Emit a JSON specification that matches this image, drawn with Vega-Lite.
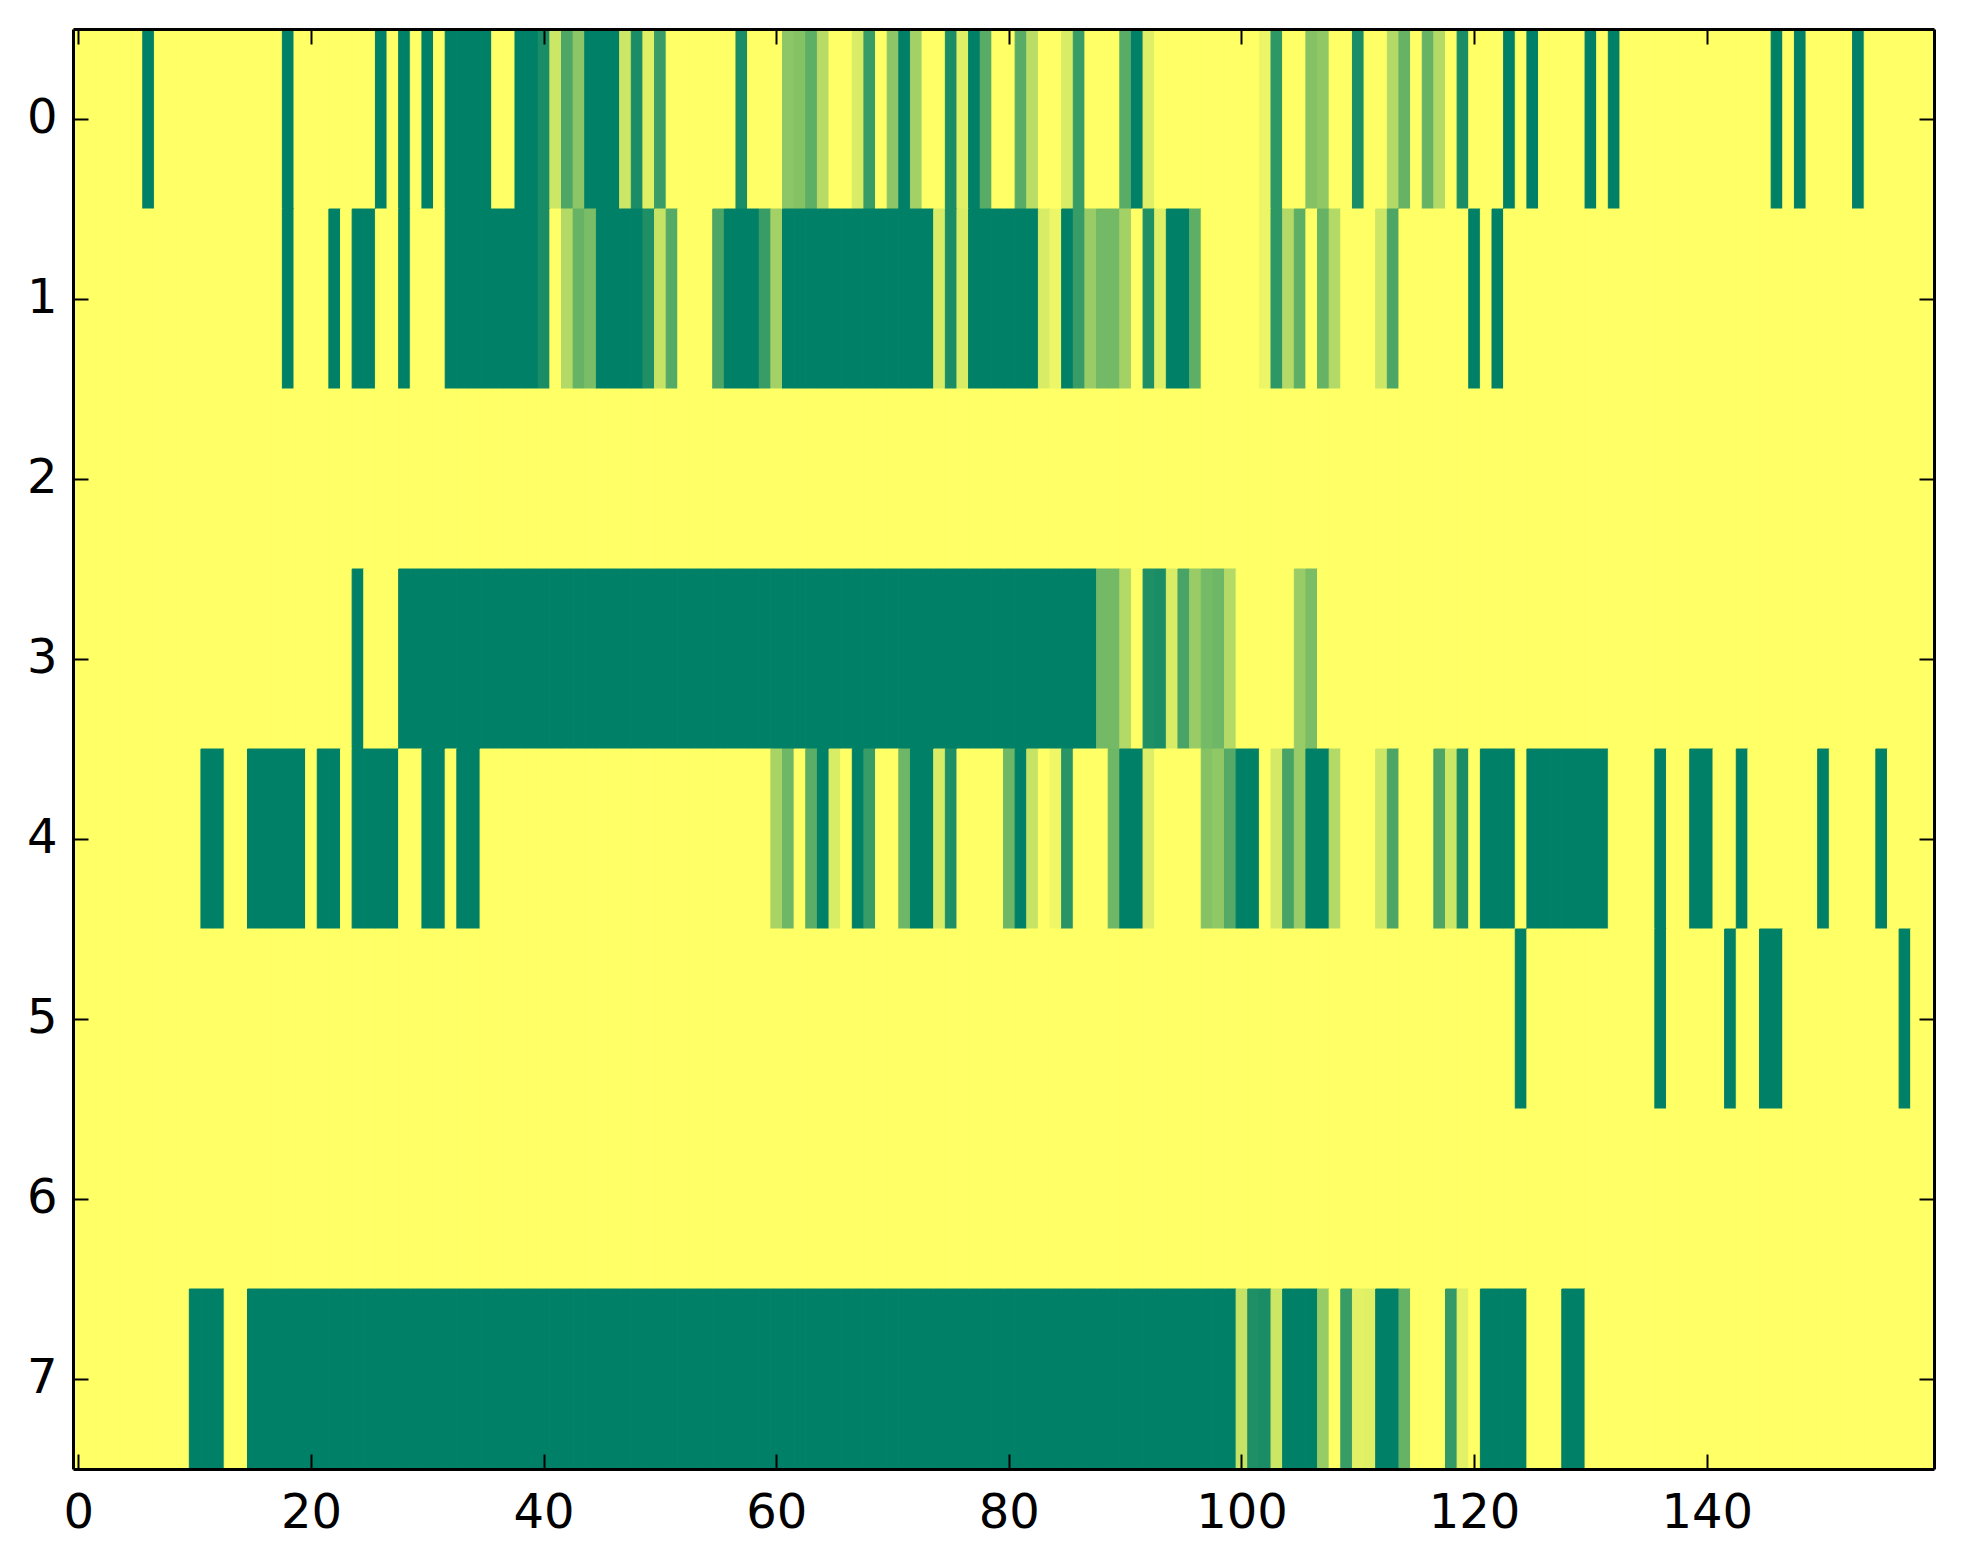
{
  "$schema": "https://vega.github.io/schema/vega-lite/v6.json",
  "autosize": {"type": "none"},
  "padding": {"left": 73, "top": 29, "right": 29, "bottom": 95},
  "width": 1861,
  "height": 1440,
  "background": "white",
  "config": {
    "view": {"stroke": null, "fill": "#ffff66"},
    "axis": {
      "domain": true, "domainColor": "black", "domainWidth": 3,
      "ticks": true, "tickColor": "black", "tickWidth": 2, "tickSize": -15,
      "labelFont": "DejaVu Sans", "labelFontSize": 48, "labelColor": "black",
      "labelAngle": 0, "labelOverlap": false, "labelFlush": false,
      "grid": false, "zindex": 2
    }
  },
  "data": {"values": [
    {"r":0,"c":0,"v":0},{"r":0,"c":1,"v":0},{"r":0,"c":2,"v":0},{"r":0,"c":3,"v":0},{"r":0,"c":4,"v":0},{"r":0,"c":5,"v":0},{"r":0,"c":6,"v":1},{"r":0,"c":7,"v":0},{"r":0,"c":8,"v":0},{"r":0,"c":9,"v":0},
    {"r":0,"c":10,"v":0},{"r":0,"c":11,"v":0},{"r":0,"c":12,"v":0},{"r":0,"c":13,"v":0},{"r":0,"c":14,"v":0},{"r":0,"c":15,"v":0},{"r":0,"c":16,"v":0},{"r":0,"c":17,"v":0},{"r":0,"c":18,"v":1},{"r":0,"c":19,"v":0},
    {"r":0,"c":20,"v":0},{"r":0,"c":21,"v":0},{"r":0,"c":22,"v":0},{"r":0,"c":23,"v":0},{"r":0,"c":24,"v":0},{"r":0,"c":25,"v":0},{"r":0,"c":26,"v":1},{"r":0,"c":27,"v":0},{"r":0,"c":28,"v":1},{"r":0,"c":29,"v":0},
    {"r":0,"c":30,"v":1},{"r":0,"c":31,"v":0},{"r":0,"c":32,"v":1},{"r":0,"c":33,"v":1},{"r":0,"c":34,"v":1},{"r":0,"c":35,"v":1},{"r":0,"c":36,"v":0},{"r":0,"c":37,"v":0},{"r":0,"c":38,"v":1},{"r":0,"c":39,"v":1},
    {"r":0,"c":40,"v":0.9},{"r":0,"c":41,"v":0.2},{"r":0,"c":42,"v":0.7},{"r":0,"c":43,"v":0.45},{"r":0,"c":44,"v":1},{"r":0,"c":45,"v":1},{"r":0,"c":46,"v":1},{"r":0,"c":47,"v":0.2},{"r":0,"c":48,"v":0.9},{"r":0,"c":49,"v":0.12},
    {"r":0,"c":50,"v":0.78},{"r":0,"c":51,"v":0},{"r":0,"c":52,"v":0},{"r":0,"c":53,"v":0},{"r":0,"c":54,"v":0},{"r":0,"c":55,"v":0},{"r":0,"c":56,"v":0},{"r":0,"c":57,"v":0.9},{"r":0,"c":58,"v":0},{"r":0,"c":59,"v":0},
    {"r":0,"c":60,"v":0},{"r":0,"c":61,"v":0.45},{"r":0,"c":62,"v":0.48},{"r":0,"c":63,"v":0.63},{"r":0,"c":64,"v":0.28},{"r":0,"c":65,"v":0},{"r":0,"c":66,"v":0},{"r":0,"c":67,"v":0.15},{"r":0,"c":68,"v":0.78},{"r":0,"c":69,"v":0},
    {"r":0,"c":70,"v":0.45},{"r":0,"c":71,"v":1},{"r":0,"c":72,"v":0.36},{"r":0,"c":73,"v":0},{"r":0,"c":74,"v":0},{"r":0,"c":75,"v":0.9},{"r":0,"c":76,"v":0.12},{"r":0,"c":77,"v":1},{"r":0,"c":78,"v":0.65},{"r":0,"c":79,"v":0},
    {"r":0,"c":80,"v":0},{"r":0,"c":81,"v":0.65},{"r":0,"c":82,"v":0.27},{"r":0,"c":83,"v":0},{"r":0,"c":84,"v":0},{"r":0,"c":85,"v":0.15},{"r":0,"c":86,"v":0.78},{"r":0,"c":87,"v":0},{"r":0,"c":88,"v":0},{"r":0,"c":89,"v":0},
    {"r":0,"c":90,"v":0.65},{"r":0,"c":91,"v":1},{"r":0,"c":92,"v":0.12},{"r":0,"c":93,"v":0},{"r":0,"c":94,"v":0},{"r":0,"c":95,"v":0},{"r":0,"c":96,"v":0},{"r":0,"c":97,"v":0},{"r":0,"c":98,"v":0},{"r":0,"c":99,"v":0},
    {"r":0,"c":100,"v":0},{"r":0,"c":101,"v":0},{"r":0,"c":102,"v":0.08},{"r":0,"c":103,"v":0.82},{"r":0,"c":104,"v":0},{"r":0,"c":105,"v":0},{"r":0,"c":106,"v":0.48},{"r":0,"c":107,"v":0.43},{"r":0,"c":108,"v":0},{"r":0,"c":109,"v":0},
    {"r":0,"c":110,"v":0.9},{"r":0,"c":111,"v":0},{"r":0,"c":112,"v":0},{"r":0,"c":113,"v":0.3},{"r":0,"c":114,"v":0.6},{"r":0,"c":115,"v":0},{"r":0,"c":116,"v":0.6},{"r":0,"c":117,"v":0.3},{"r":0,"c":118,"v":0},{"r":0,"c":119,"v":0.9},
    {"r":0,"c":120,"v":0},{"r":0,"c":121,"v":0},{"r":0,"c":122,"v":0},{"r":0,"c":123,"v":1},{"r":0,"c":124,"v":0},{"r":0,"c":125,"v":1},{"r":0,"c":126,"v":0},{"r":0,"c":127,"v":0},{"r":0,"c":128,"v":0},{"r":0,"c":129,"v":0},
    {"r":0,"c":130,"v":1},{"r":0,"c":131,"v":0},{"r":0,"c":132,"v":1},{"r":0,"c":133,"v":0},{"r":0,"c":134,"v":0},{"r":0,"c":135,"v":0},{"r":0,"c":136,"v":0},{"r":0,"c":137,"v":0},{"r":0,"c":138,"v":0},{"r":0,"c":139,"v":0},
    {"r":0,"c":140,"v":0},{"r":0,"c":141,"v":0},{"r":0,"c":142,"v":0},{"r":0,"c":143,"v":0},{"r":0,"c":144,"v":0},{"r":0,"c":145,"v":0},{"r":0,"c":146,"v":1},{"r":0,"c":147,"v":0},{"r":0,"c":148,"v":1},{"r":0,"c":149,"v":0},
    {"r":0,"c":150,"v":0},{"r":0,"c":151,"v":0},{"r":0,"c":152,"v":0},{"r":0,"c":153,"v":1},{"r":0,"c":154,"v":0},{"r":0,"c":155,"v":0},{"r":0,"c":156,"v":0},{"r":0,"c":157,"v":0},{"r":0,"c":158,"v":0},{"r":0,"c":159,"v":0},

    {"r":1,"c":0,"v":0},{"r":1,"c":1,"v":0},{"r":1,"c":2,"v":0},{"r":1,"c":3,"v":0},{"r":1,"c":4,"v":0},{"r":1,"c":5,"v":0},{"r":1,"c":6,"v":0},{"r":1,"c":7,"v":0},{"r":1,"c":8,"v":0},{"r":1,"c":9,"v":0},
    {"r":1,"c":10,"v":0},{"r":1,"c":11,"v":0},{"r":1,"c":12,"v":0},{"r":1,"c":13,"v":0},{"r":1,"c":14,"v":0},{"r":1,"c":15,"v":0},{"r":1,"c":16,"v":0},{"r":1,"c":17,"v":0},{"r":1,"c":18,"v":1},{"r":1,"c":19,"v":0},
    {"r":1,"c":20,"v":0},{"r":1,"c":21,"v":0},{"r":1,"c":22,"v":1},{"r":1,"c":23,"v":0},{"r":1,"c":24,"v":1},{"r":1,"c":25,"v":1},{"r":1,"c":26,"v":0},{"r":1,"c":27,"v":0},{"r":1,"c":28,"v":1},{"r":1,"c":29,"v":0},
    {"r":1,"c":30,"v":0},{"r":1,"c":31,"v":0},{"r":1,"c":32,"v":1},{"r":1,"c":33,"v":1},{"r":1,"c":34,"v":1},{"r":1,"c":35,"v":1},{"r":1,"c":36,"v":1},{"r":1,"c":37,"v":1},{"r":1,"c":38,"v":1},{"r":1,"c":39,"v":1},
    {"r":1,"c":40,"v":0.9},{"r":1,"c":41,"v":0},{"r":1,"c":42,"v":0.3},{"r":1,"c":43,"v":0.6},{"r":1,"c":44,"v":0.52},{"r":1,"c":45,"v":1},{"r":1,"c":46,"v":1},{"r":1,"c":47,"v":1},{"r":1,"c":48,"v":1},{"r":1,"c":49,"v":0.88},
    {"r":1,"c":50,"v":0.22},{"r":1,"c":51,"v":0.67},{"r":1,"c":52,"v":0},{"r":1,"c":53,"v":0},{"r":1,"c":54,"v":0},{"r":1,"c":55,"v":0.7},{"r":1,"c":56,"v":1},{"r":1,"c":57,"v":1},{"r":1,"c":58,"v":1},{"r":1,"c":59,"v":0.78},
    {"r":1,"c":60,"v":0.36},{"r":1,"c":61,"v":1},{"r":1,"c":62,"v":1},{"r":1,"c":63,"v":1},{"r":1,"c":64,"v":1},{"r":1,"c":65,"v":1},{"r":1,"c":66,"v":1},{"r":1,"c":67,"v":1},{"r":1,"c":68,"v":1},{"r":1,"c":69,"v":1},
    {"r":1,"c":70,"v":1},{"r":1,"c":71,"v":1},{"r":1,"c":72,"v":1},{"r":1,"c":73,"v":1},{"r":1,"c":74,"v":0.15},{"r":1,"c":75,"v":0.9},{"r":1,"c":76,"v":0.15},{"r":1,"c":77,"v":1},{"r":1,"c":78,"v":1},{"r":1,"c":79,"v":1},
    {"r":1,"c":80,"v":1},{"r":1,"c":81,"v":1},{"r":1,"c":82,"v":1},{"r":1,"c":83,"v":0.15},{"r":1,"c":84,"v":0.07},{"r":1,"c":85,"v":1},{"r":1,"c":86,"v":0.78},{"r":1,"c":87,"v":0.4},{"r":1,"c":88,"v":0.55},{"r":1,"c":89,"v":0.55},
    {"r":1,"c":90,"v":0.36},{"r":1,"c":91,"v":0},{"r":1,"c":92,"v":0.88},{"r":1,"c":93,"v":0.12},{"r":1,"c":94,"v":1},{"r":1,"c":95,"v":1},{"r":1,"c":96,"v":0.63},{"r":1,"c":97,"v":0},{"r":1,"c":98,"v":0},{"r":1,"c":99,"v":0},
    {"r":1,"c":100,"v":0},{"r":1,"c":101,"v":0},{"r":1,"c":102,"v":0.08},{"r":1,"c":103,"v":0.82},{"r":1,"c":104,"v":0.3},{"r":1,"c":105,"v":0.63},{"r":1,"c":106,"v":0},{"r":1,"c":107,"v":0.6},{"r":1,"c":108,"v":0.3},{"r":1,"c":109,"v":0},
    {"r":1,"c":110,"v":0},{"r":1,"c":111,"v":0},{"r":1,"c":112,"v":0.2},{"r":1,"c":113,"v":0.7},{"r":1,"c":114,"v":0},{"r":1,"c":115,"v":0},{"r":1,"c":116,"v":0},{"r":1,"c":117,"v":0},{"r":1,"c":118,"v":0},{"r":1,"c":119,"v":0},
    {"r":1,"c":120,"v":1},{"r":1,"c":121,"v":0},{"r":1,"c":122,"v":1},{"r":1,"c":123,"v":0},{"r":1,"c":124,"v":0},{"r":1,"c":125,"v":0},{"r":1,"c":126,"v":0},{"r":1,"c":127,"v":0},{"r":1,"c":128,"v":0},{"r":1,"c":129,"v":0},
    {"r":1,"c":130,"v":0},{"r":1,"c":131,"v":0},{"r":1,"c":132,"v":0},{"r":1,"c":133,"v":0},{"r":1,"c":134,"v":0},{"r":1,"c":135,"v":0},{"r":1,"c":136,"v":0},{"r":1,"c":137,"v":0},{"r":1,"c":138,"v":0},{"r":1,"c":139,"v":0},
    {"r":1,"c":140,"v":0},{"r":1,"c":141,"v":0},{"r":1,"c":142,"v":0},{"r":1,"c":143,"v":0},{"r":1,"c":144,"v":0},{"r":1,"c":145,"v":0},{"r":1,"c":146,"v":0},{"r":1,"c":147,"v":0},{"r":1,"c":148,"v":0},{"r":1,"c":149,"v":0},
    {"r":1,"c":150,"v":0},{"r":1,"c":151,"v":0},{"r":1,"c":152,"v":0},{"r":1,"c":153,"v":0},{"r":1,"c":154,"v":0},{"r":1,"c":155,"v":0},{"r":1,"c":156,"v":0},{"r":1,"c":157,"v":0},{"r":1,"c":158,"v":0},{"r":1,"c":159,"v":0},

    {"r":2,"c":0,"v":0},{"r":2,"c":1,"v":0},{"r":2,"c":2,"v":0},{"r":2,"c":3,"v":0},{"r":2,"c":4,"v":0},{"r":2,"c":5,"v":0},{"r":2,"c":6,"v":0},{"r":2,"c":7,"v":0},{"r":2,"c":8,"v":0},{"r":2,"c":9,"v":0},
    {"r":2,"c":10,"v":0},{"r":2,"c":11,"v":0},{"r":2,"c":12,"v":0},{"r":2,"c":13,"v":0},{"r":2,"c":14,"v":0},{"r":2,"c":15,"v":0},{"r":2,"c":16,"v":0},{"r":2,"c":17,"v":0},{"r":2,"c":18,"v":0},{"r":2,"c":19,"v":0},
    {"r":2,"c":20,"v":0},{"r":2,"c":21,"v":0},{"r":2,"c":22,"v":0},{"r":2,"c":23,"v":0},{"r":2,"c":24,"v":0},{"r":2,"c":25,"v":0},{"r":2,"c":26,"v":0},{"r":2,"c":27,"v":0},{"r":2,"c":28,"v":0},{"r":2,"c":29,"v":0},
    {"r":2,"c":30,"v":0},{"r":2,"c":31,"v":0},{"r":2,"c":32,"v":0},{"r":2,"c":33,"v":0},{"r":2,"c":34,"v":0},{"r":2,"c":35,"v":0},{"r":2,"c":36,"v":0},{"r":2,"c":37,"v":0},{"r":2,"c":38,"v":0},{"r":2,"c":39,"v":0},
    {"r":2,"c":40,"v":0},{"r":2,"c":41,"v":0},{"r":2,"c":42,"v":0},{"r":2,"c":43,"v":0},{"r":2,"c":44,"v":0},{"r":2,"c":45,"v":0},{"r":2,"c":46,"v":0},{"r":2,"c":47,"v":0},{"r":2,"c":48,"v":0},{"r":2,"c":49,"v":0},
    {"r":2,"c":50,"v":0},{"r":2,"c":51,"v":0},{"r":2,"c":52,"v":0},{"r":2,"c":53,"v":0},{"r":2,"c":54,"v":0},{"r":2,"c":55,"v":0},{"r":2,"c":56,"v":0},{"r":2,"c":57,"v":0},{"r":2,"c":58,"v":0},{"r":2,"c":59,"v":0},
    {"r":2,"c":60,"v":0},{"r":2,"c":61,"v":0},{"r":2,"c":62,"v":0},{"r":2,"c":63,"v":0},{"r":2,"c":64,"v":0},{"r":2,"c":65,"v":0},{"r":2,"c":66,"v":0},{"r":2,"c":67,"v":0},{"r":2,"c":68,"v":0},{"r":2,"c":69,"v":0},
    {"r":2,"c":70,"v":0},{"r":2,"c":71,"v":0},{"r":2,"c":72,"v":0},{"r":2,"c":73,"v":0},{"r":2,"c":74,"v":0},{"r":2,"c":75,"v":0},{"r":2,"c":76,"v":0},{"r":2,"c":77,"v":0},{"r":2,"c":78,"v":0},{"r":2,"c":79,"v":0},
    {"r":2,"c":80,"v":0},{"r":2,"c":81,"v":0},{"r":2,"c":82,"v":0},{"r":2,"c":83,"v":0},{"r":2,"c":84,"v":0},{"r":2,"c":85,"v":0},{"r":2,"c":86,"v":0},{"r":2,"c":87,"v":0},{"r":2,"c":88,"v":0},{"r":2,"c":89,"v":0},
    {"r":2,"c":90,"v":0},{"r":2,"c":91,"v":0},{"r":2,"c":92,"v":0},{"r":2,"c":93,"v":0},{"r":2,"c":94,"v":0},{"r":2,"c":95,"v":0},{"r":2,"c":96,"v":0},{"r":2,"c":97,"v":0},{"r":2,"c":98,"v":0},{"r":2,"c":99,"v":0},
    {"r":2,"c":100,"v":0},{"r":2,"c":101,"v":0},{"r":2,"c":102,"v":0},{"r":2,"c":103,"v":0},{"r":2,"c":104,"v":0},{"r":2,"c":105,"v":0},{"r":2,"c":106,"v":0},{"r":2,"c":107,"v":0},{"r":2,"c":108,"v":0},{"r":2,"c":109,"v":0},
    {"r":2,"c":110,"v":0},{"r":2,"c":111,"v":0},{"r":2,"c":112,"v":0},{"r":2,"c":113,"v":0},{"r":2,"c":114,"v":0},{"r":2,"c":115,"v":0},{"r":2,"c":116,"v":0},{"r":2,"c":117,"v":0},{"r":2,"c":118,"v":0},{"r":2,"c":119,"v":0},
    {"r":2,"c":120,"v":0},{"r":2,"c":121,"v":0},{"r":2,"c":122,"v":0},{"r":2,"c":123,"v":0},{"r":2,"c":124,"v":0},{"r":2,"c":125,"v":0},{"r":2,"c":126,"v":0},{"r":2,"c":127,"v":0},{"r":2,"c":128,"v":0},{"r":2,"c":129,"v":0},
    {"r":2,"c":130,"v":0},{"r":2,"c":131,"v":0},{"r":2,"c":132,"v":0},{"r":2,"c":133,"v":0},{"r":2,"c":134,"v":0},{"r":2,"c":135,"v":0},{"r":2,"c":136,"v":0},{"r":2,"c":137,"v":0},{"r":2,"c":138,"v":0},{"r":2,"c":139,"v":0},
    {"r":2,"c":140,"v":0},{"r":2,"c":141,"v":0},{"r":2,"c":142,"v":0},{"r":2,"c":143,"v":0},{"r":2,"c":144,"v":0},{"r":2,"c":145,"v":0},{"r":2,"c":146,"v":0},{"r":2,"c":147,"v":0},{"r":2,"c":148,"v":0},{"r":2,"c":149,"v":0},
    {"r":2,"c":150,"v":0},{"r":2,"c":151,"v":0},{"r":2,"c":152,"v":0},{"r":2,"c":153,"v":0},{"r":2,"c":154,"v":0},{"r":2,"c":155,"v":0},{"r":2,"c":156,"v":0},{"r":2,"c":157,"v":0},{"r":2,"c":158,"v":0},{"r":2,"c":159,"v":0},

    {"r":3,"c":0,"v":0},{"r":3,"c":1,"v":0},{"r":3,"c":2,"v":0},{"r":3,"c":3,"v":0},{"r":3,"c":4,"v":0},{"r":3,"c":5,"v":0},{"r":3,"c":6,"v":0},{"r":3,"c":7,"v":0},{"r":3,"c":8,"v":0},{"r":3,"c":9,"v":0},
    {"r":3,"c":10,"v":0},{"r":3,"c":11,"v":0},{"r":3,"c":12,"v":0},{"r":3,"c":13,"v":0},{"r":3,"c":14,"v":0},{"r":3,"c":15,"v":0},{"r":3,"c":16,"v":0},{"r":3,"c":17,"v":0},{"r":3,"c":18,"v":0},{"r":3,"c":19,"v":0},
    {"r":3,"c":20,"v":0},{"r":3,"c":21,"v":0},{"r":3,"c":22,"v":0},{"r":3,"c":23,"v":0},{"r":3,"c":24,"v":1},{"r":3,"c":25,"v":0},{"r":3,"c":26,"v":0},{"r":3,"c":27,"v":0},{"r":3,"c":28,"v":1},{"r":3,"c":29,"v":1},
    {"r":3,"c":30,"v":1},{"r":3,"c":31,"v":1},{"r":3,"c":32,"v":1},{"r":3,"c":33,"v":1},{"r":3,"c":34,"v":1},{"r":3,"c":35,"v":1},{"r":3,"c":36,"v":1},{"r":3,"c":37,"v":1},{"r":3,"c":38,"v":1},{"r":3,"c":39,"v":1},
    {"r":3,"c":40,"v":1},{"r":3,"c":41,"v":1},{"r":3,"c":42,"v":1},{"r":3,"c":43,"v":1},{"r":3,"c":44,"v":1},{"r":3,"c":45,"v":1},{"r":3,"c":46,"v":1},{"r":3,"c":47,"v":1},{"r":3,"c":48,"v":1},{"r":3,"c":49,"v":1},
    {"r":3,"c":50,"v":1},{"r":3,"c":51,"v":1},{"r":3,"c":52,"v":1},{"r":3,"c":53,"v":1},{"r":3,"c":54,"v":1},{"r":3,"c":55,"v":1},{"r":3,"c":56,"v":1},{"r":3,"c":57,"v":1},{"r":3,"c":58,"v":1},{"r":3,"c":59,"v":1},
    {"r":3,"c":60,"v":1},{"r":3,"c":61,"v":1},{"r":3,"c":62,"v":1},{"r":3,"c":63,"v":1},{"r":3,"c":64,"v":1},{"r":3,"c":65,"v":1},{"r":3,"c":66,"v":1},{"r":3,"c":67,"v":1},{"r":3,"c":68,"v":1},{"r":3,"c":69,"v":1},
    {"r":3,"c":70,"v":1},{"r":3,"c":71,"v":1},{"r":3,"c":72,"v":1},{"r":3,"c":73,"v":1},{"r":3,"c":74,"v":1},{"r":3,"c":75,"v":1},{"r":3,"c":76,"v":1},{"r":3,"c":77,"v":1},{"r":3,"c":78,"v":1},{"r":3,"c":79,"v":1},
    {"r":3,"c":80,"v":1},{"r":3,"c":81,"v":1},{"r":3,"c":82,"v":1},{"r":3,"c":83,"v":1},{"r":3,"c":84,"v":1},{"r":3,"c":85,"v":1},{"r":3,"c":86,"v":1},{"r":3,"c":87,"v":1},{"r":3,"c":88,"v":0.55},{"r":3,"c":89,"v":0.55},
    {"r":3,"c":90,"v":0.3},{"r":3,"c":91,"v":0},{"r":3,"c":92,"v":0.88},{"r":3,"c":93,"v":0.9},{"r":3,"c":94,"v":0.15},{"r":3,"c":95,"v":0.72},{"r":3,"c":96,"v":0.4},{"r":3,"c":97,"v":0.54},{"r":3,"c":98,"v":0.57},{"r":3,"c":99,"v":0.3},
    {"r":3,"c":100,"v":0},{"r":3,"c":101,"v":0},{"r":3,"c":102,"v":0},{"r":3,"c":103,"v":0},{"r":3,"c":104,"v":0},{"r":3,"c":105,"v":0.4},{"r":3,"c":106,"v":0.52},{"r":3,"c":107,"v":0},{"r":3,"c":108,"v":0},{"r":3,"c":109,"v":0},
    {"r":3,"c":110,"v":0},{"r":3,"c":111,"v":0},{"r":3,"c":112,"v":0},{"r":3,"c":113,"v":0},{"r":3,"c":114,"v":0},{"r":3,"c":115,"v":0},{"r":3,"c":116,"v":0},{"r":3,"c":117,"v":0},{"r":3,"c":118,"v":0},{"r":3,"c":119,"v":0},
    {"r":3,"c":120,"v":0},{"r":3,"c":121,"v":0},{"r":3,"c":122,"v":0},{"r":3,"c":123,"v":0},{"r":3,"c":124,"v":0},{"r":3,"c":125,"v":0},{"r":3,"c":126,"v":0},{"r":3,"c":127,"v":0},{"r":3,"c":128,"v":0},{"r":3,"c":129,"v":0},
    {"r":3,"c":130,"v":0},{"r":3,"c":131,"v":0},{"r":3,"c":132,"v":0},{"r":3,"c":133,"v":0},{"r":3,"c":134,"v":0},{"r":3,"c":135,"v":0},{"r":3,"c":136,"v":0},{"r":3,"c":137,"v":0},{"r":3,"c":138,"v":0},{"r":3,"c":139,"v":0},
    {"r":3,"c":140,"v":0},{"r":3,"c":141,"v":0},{"r":3,"c":142,"v":0},{"r":3,"c":143,"v":0},{"r":3,"c":144,"v":0},{"r":3,"c":145,"v":0},{"r":3,"c":146,"v":0},{"r":3,"c":147,"v":0},{"r":3,"c":148,"v":0},{"r":3,"c":149,"v":0},
    {"r":3,"c":150,"v":0},{"r":3,"c":151,"v":0},{"r":3,"c":152,"v":0},{"r":3,"c":153,"v":0},{"r":3,"c":154,"v":0},{"r":3,"c":155,"v":0},{"r":3,"c":156,"v":0},{"r":3,"c":157,"v":0},{"r":3,"c":158,"v":0},{"r":3,"c":159,"v":0},

    {"r":4,"c":0,"v":0},{"r":4,"c":1,"v":0},{"r":4,"c":2,"v":0},{"r":4,"c":3,"v":0},{"r":4,"c":4,"v":0},{"r":4,"c":5,"v":0},{"r":4,"c":6,"v":0},{"r":4,"c":7,"v":0},{"r":4,"c":8,"v":0},{"r":4,"c":9,"v":0},
    {"r":4,"c":10,"v":0},{"r":4,"c":11,"v":1},{"r":4,"c":12,"v":1},{"r":4,"c":13,"v":0},{"r":4,"c":14,"v":0},{"r":4,"c":15,"v":1},{"r":4,"c":16,"v":1},{"r":4,"c":17,"v":1},{"r":4,"c":18,"v":1},{"r":4,"c":19,"v":1},
    {"r":4,"c":20,"v":0},{"r":4,"c":21,"v":1},{"r":4,"c":22,"v":1},{"r":4,"c":23,"v":0},{"r":4,"c":24,"v":1},{"r":4,"c":25,"v":1},{"r":4,"c":26,"v":1},{"r":4,"c":27,"v":1},{"r":4,"c":28,"v":0},{"r":4,"c":29,"v":0},
    {"r":4,"c":30,"v":1},{"r":4,"c":31,"v":1},{"r":4,"c":32,"v":0},{"r":4,"c":33,"v":1},{"r":4,"c":34,"v":1},{"r":4,"c":35,"v":0},{"r":4,"c":36,"v":0},{"r":4,"c":37,"v":0},{"r":4,"c":38,"v":0},{"r":4,"c":39,"v":0},
    {"r":4,"c":40,"v":0},{"r":4,"c":41,"v":0},{"r":4,"c":42,"v":0},{"r":4,"c":43,"v":0},{"r":4,"c":44,"v":0},{"r":4,"c":45,"v":0},{"r":4,"c":46,"v":0},{"r":4,"c":47,"v":0},{"r":4,"c":48,"v":0},{"r":4,"c":49,"v":0},
    {"r":4,"c":50,"v":0},{"r":4,"c":51,"v":0},{"r":4,"c":52,"v":0},{"r":4,"c":53,"v":0},{"r":4,"c":54,"v":0},{"r":4,"c":55,"v":0},{"r":4,"c":56,"v":0},{"r":4,"c":57,"v":0},{"r":4,"c":58,"v":0},{"r":4,"c":59,"v":0},
    {"r":4,"c":60,"v":0.34},{"r":4,"c":61,"v":0.57},{"r":4,"c":62,"v":0},{"r":4,"c":63,"v":0.64},{"r":4,"c":64,"v":1},{"r":4,"c":65,"v":0.15},{"r":4,"c":66,"v":0},{"r":4,"c":67,"v":1},{"r":4,"c":68,"v":0.78},{"r":4,"c":69,"v":0},
    {"r":4,"c":70,"v":0},{"r":4,"c":71,"v":0.57},{"r":4,"c":72,"v":1},{"r":4,"c":73,"v":1},{"r":4,"c":74,"v":0.15},{"r":4,"c":75,"v":0.88},{"r":4,"c":76,"v":0},{"r":4,"c":77,"v":0},{"r":4,"c":78,"v":0},{"r":4,"c":79,"v":0},
    {"r":4,"c":80,"v":0.57},{"r":4,"c":81,"v":1},{"r":4,"c":82,"v":0.22},{"r":4,"c":83,"v":0},{"r":4,"c":84,"v":0.06},{"r":4,"c":85,"v":0.84},{"r":4,"c":86,"v":0},{"r":4,"c":87,"v":0},{"r":4,"c":88,"v":0},{"r":4,"c":89,"v":0.57},
    {"r":4,"c":90,"v":1},{"r":4,"c":91,"v":1},{"r":4,"c":92,"v":0.13},{"r":4,"c":93,"v":0},{"r":4,"c":94,"v":0},{"r":4,"c":95,"v":0},{"r":4,"c":96,"v":0},{"r":4,"c":97,"v":0.48},{"r":4,"c":98,"v":0.43},{"r":4,"c":99,"v":0.67},
    {"r":4,"c":100,"v":1},{"r":4,"c":101,"v":1},{"r":4,"c":102,"v":0},{"r":4,"c":103,"v":0.17},{"r":4,"c":104,"v":0.72},{"r":4,"c":105,"v":0.4},{"r":4,"c":106,"v":1},{"r":4,"c":107,"v":1},{"r":4,"c":108,"v":0.3},{"r":4,"c":109,"v":0},
    {"r":4,"c":110,"v":0},{"r":4,"c":111,"v":0},{"r":4,"c":112,"v":0.2},{"r":4,"c":113,"v":0.7},{"r":4,"c":114,"v":0},{"r":4,"c":115,"v":0},{"r":4,"c":116,"v":0},{"r":4,"c":117,"v":0.7},{"r":4,"c":118,"v":0.2},{"r":4,"c":119,"v":0.9},
    {"r":4,"c":120,"v":0},{"r":4,"c":121,"v":1},{"r":4,"c":122,"v":1},{"r":4,"c":123,"v":1},{"r":4,"c":124,"v":0},{"r":4,"c":125,"v":1},{"r":4,"c":126,"v":1},{"r":4,"c":127,"v":1},{"r":4,"c":128,"v":1},{"r":4,"c":129,"v":1},
    {"r":4,"c":130,"v":1},{"r":4,"c":131,"v":1},{"r":4,"c":132,"v":0},{"r":4,"c":133,"v":0},{"r":4,"c":134,"v":0},{"r":4,"c":135,"v":0},{"r":4,"c":136,"v":1},{"r":4,"c":137,"v":0},{"r":4,"c":138,"v":0},{"r":4,"c":139,"v":1},
    {"r":4,"c":140,"v":1},{"r":4,"c":141,"v":0},{"r":4,"c":142,"v":0},{"r":4,"c":143,"v":1},{"r":4,"c":144,"v":0},{"r":4,"c":145,"v":0},{"r":4,"c":146,"v":0},{"r":4,"c":147,"v":0},{"r":4,"c":148,"v":0},{"r":4,"c":149,"v":0},
    {"r":4,"c":150,"v":1},{"r":4,"c":151,"v":0},{"r":4,"c":152,"v":0},{"r":4,"c":153,"v":0},{"r":4,"c":154,"v":0},{"r":4,"c":155,"v":1},{"r":4,"c":156,"v":0},{"r":4,"c":157,"v":0},{"r":4,"c":158,"v":0},{"r":4,"c":159,"v":0},

    {"r":5,"c":0,"v":0},{"r":5,"c":1,"v":0},{"r":5,"c":2,"v":0},{"r":5,"c":3,"v":0},{"r":5,"c":4,"v":0},{"r":5,"c":5,"v":0},{"r":5,"c":6,"v":0},{"r":5,"c":7,"v":0},{"r":5,"c":8,"v":0},{"r":5,"c":9,"v":0},
    {"r":5,"c":10,"v":0},{"r":5,"c":11,"v":0},{"r":5,"c":12,"v":0},{"r":5,"c":13,"v":0},{"r":5,"c":14,"v":0},{"r":5,"c":15,"v":0},{"r":5,"c":16,"v":0},{"r":5,"c":17,"v":0},{"r":5,"c":18,"v":0},{"r":5,"c":19,"v":0},
    {"r":5,"c":20,"v":0},{"r":5,"c":21,"v":0},{"r":5,"c":22,"v":0},{"r":5,"c":23,"v":0},{"r":5,"c":24,"v":0},{"r":5,"c":25,"v":0},{"r":5,"c":26,"v":0},{"r":5,"c":27,"v":0},{"r":5,"c":28,"v":0},{"r":5,"c":29,"v":0},
    {"r":5,"c":30,"v":0},{"r":5,"c":31,"v":0},{"r":5,"c":32,"v":0},{"r":5,"c":33,"v":0},{"r":5,"c":34,"v":0},{"r":5,"c":35,"v":0},{"r":5,"c":36,"v":0},{"r":5,"c":37,"v":0},{"r":5,"c":38,"v":0},{"r":5,"c":39,"v":0},
    {"r":5,"c":40,"v":0},{"r":5,"c":41,"v":0},{"r":5,"c":42,"v":0},{"r":5,"c":43,"v":0},{"r":5,"c":44,"v":0},{"r":5,"c":45,"v":0},{"r":5,"c":46,"v":0},{"r":5,"c":47,"v":0},{"r":5,"c":48,"v":0},{"r":5,"c":49,"v":0},
    {"r":5,"c":50,"v":0},{"r":5,"c":51,"v":0},{"r":5,"c":52,"v":0},{"r":5,"c":53,"v":0},{"r":5,"c":54,"v":0},{"r":5,"c":55,"v":0},{"r":5,"c":56,"v":0},{"r":5,"c":57,"v":0},{"r":5,"c":58,"v":0},{"r":5,"c":59,"v":0},
    {"r":5,"c":60,"v":0},{"r":5,"c":61,"v":0},{"r":5,"c":62,"v":0},{"r":5,"c":63,"v":0},{"r":5,"c":64,"v":0},{"r":5,"c":65,"v":0},{"r":5,"c":66,"v":0},{"r":5,"c":67,"v":0},{"r":5,"c":68,"v":0},{"r":5,"c":69,"v":0},
    {"r":5,"c":70,"v":0},{"r":5,"c":71,"v":0},{"r":5,"c":72,"v":0},{"r":5,"c":73,"v":0},{"r":5,"c":74,"v":0},{"r":5,"c":75,"v":0},{"r":5,"c":76,"v":0},{"r":5,"c":77,"v":0},{"r":5,"c":78,"v":0},{"r":5,"c":79,"v":0},
    {"r":5,"c":80,"v":0},{"r":5,"c":81,"v":0},{"r":5,"c":82,"v":0},{"r":5,"c":83,"v":0},{"r":5,"c":84,"v":0},{"r":5,"c":85,"v":0},{"r":5,"c":86,"v":0},{"r":5,"c":87,"v":0},{"r":5,"c":88,"v":0},{"r":5,"c":89,"v":0},
    {"r":5,"c":90,"v":0},{"r":5,"c":91,"v":0},{"r":5,"c":92,"v":0},{"r":5,"c":93,"v":0},{"r":5,"c":94,"v":0},{"r":5,"c":95,"v":0},{"r":5,"c":96,"v":0},{"r":5,"c":97,"v":0},{"r":5,"c":98,"v":0},{"r":5,"c":99,"v":0},
    {"r":5,"c":100,"v":0},{"r":5,"c":101,"v":0},{"r":5,"c":102,"v":0},{"r":5,"c":103,"v":0},{"r":5,"c":104,"v":0},{"r":5,"c":105,"v":0},{"r":5,"c":106,"v":0},{"r":5,"c":107,"v":0},{"r":5,"c":108,"v":0},{"r":5,"c":109,"v":0},
    {"r":5,"c":110,"v":0},{"r":5,"c":111,"v":0},{"r":5,"c":112,"v":0},{"r":5,"c":113,"v":0},{"r":5,"c":114,"v":0},{"r":5,"c":115,"v":0},{"r":5,"c":116,"v":0},{"r":5,"c":117,"v":0},{"r":5,"c":118,"v":0},{"r":5,"c":119,"v":0},
    {"r":5,"c":120,"v":0},{"r":5,"c":121,"v":0},{"r":5,"c":122,"v":0},{"r":5,"c":123,"v":0},{"r":5,"c":124,"v":1},{"r":5,"c":125,"v":0},{"r":5,"c":126,"v":0},{"r":5,"c":127,"v":0},{"r":5,"c":128,"v":0},{"r":5,"c":129,"v":0},
    {"r":5,"c":130,"v":0},{"r":5,"c":131,"v":0},{"r":5,"c":132,"v":0},{"r":5,"c":133,"v":0},{"r":5,"c":134,"v":0},{"r":5,"c":135,"v":0},{"r":5,"c":136,"v":1},{"r":5,"c":137,"v":0},{"r":5,"c":138,"v":0},{"r":5,"c":139,"v":0},
    {"r":5,"c":140,"v":0},{"r":5,"c":141,"v":0},{"r":5,"c":142,"v":1},{"r":5,"c":143,"v":0},{"r":5,"c":144,"v":0},{"r":5,"c":145,"v":1},{"r":5,"c":146,"v":1},{"r":5,"c":147,"v":0},{"r":5,"c":148,"v":0},{"r":5,"c":149,"v":0},
    {"r":5,"c":150,"v":0},{"r":5,"c":151,"v":0},{"r":5,"c":152,"v":0},{"r":5,"c":153,"v":0},{"r":5,"c":154,"v":0},{"r":5,"c":155,"v":0},{"r":5,"c":156,"v":0},{"r":5,"c":157,"v":1},{"r":5,"c":158,"v":0},{"r":5,"c":159,"v":0},

    {"r":6,"c":0,"v":0},{"r":6,"c":1,"v":0},{"r":6,"c":2,"v":0},{"r":6,"c":3,"v":0},{"r":6,"c":4,"v":0},{"r":6,"c":5,"v":0},{"r":6,"c":6,"v":0},{"r":6,"c":7,"v":0},{"r":6,"c":8,"v":0},{"r":6,"c":9,"v":0},
    {"r":6,"c":10,"v":0},{"r":6,"c":11,"v":0},{"r":6,"c":12,"v":0},{"r":6,"c":13,"v":0},{"r":6,"c":14,"v":0},{"r":6,"c":15,"v":0},{"r":6,"c":16,"v":0},{"r":6,"c":17,"v":0},{"r":6,"c":18,"v":0},{"r":6,"c":19,"v":0},
    {"r":6,"c":20,"v":0},{"r":6,"c":21,"v":0},{"r":6,"c":22,"v":0},{"r":6,"c":23,"v":0},{"r":6,"c":24,"v":0},{"r":6,"c":25,"v":0},{"r":6,"c":26,"v":0},{"r":6,"c":27,"v":0},{"r":6,"c":28,"v":0},{"r":6,"c":29,"v":0},
    {"r":6,"c":30,"v":0},{"r":6,"c":31,"v":0},{"r":6,"c":32,"v":0},{"r":6,"c":33,"v":0},{"r":6,"c":34,"v":0},{"r":6,"c":35,"v":0},{"r":6,"c":36,"v":0},{"r":6,"c":37,"v":0},{"r":6,"c":38,"v":0},{"r":6,"c":39,"v":0},
    {"r":6,"c":40,"v":0},{"r":6,"c":41,"v":0},{"r":6,"c":42,"v":0},{"r":6,"c":43,"v":0},{"r":6,"c":44,"v":0},{"r":6,"c":45,"v":0},{"r":6,"c":46,"v":0},{"r":6,"c":47,"v":0},{"r":6,"c":48,"v":0},{"r":6,"c":49,"v":0},
    {"r":6,"c":50,"v":0},{"r":6,"c":51,"v":0},{"r":6,"c":52,"v":0},{"r":6,"c":53,"v":0},{"r":6,"c":54,"v":0},{"r":6,"c":55,"v":0},{"r":6,"c":56,"v":0},{"r":6,"c":57,"v":0},{"r":6,"c":58,"v":0},{"r":6,"c":59,"v":0},
    {"r":6,"c":60,"v":0},{"r":6,"c":61,"v":0},{"r":6,"c":62,"v":0},{"r":6,"c":63,"v":0},{"r":6,"c":64,"v":0},{"r":6,"c":65,"v":0},{"r":6,"c":66,"v":0},{"r":6,"c":67,"v":0},{"r":6,"c":68,"v":0},{"r":6,"c":69,"v":0},
    {"r":6,"c":70,"v":0},{"r":6,"c":71,"v":0},{"r":6,"c":72,"v":0},{"r":6,"c":73,"v":0},{"r":6,"c":74,"v":0},{"r":6,"c":75,"v":0},{"r":6,"c":76,"v":0},{"r":6,"c":77,"v":0},{"r":6,"c":78,"v":0},{"r":6,"c":79,"v":0},
    {"r":6,"c":80,"v":0},{"r":6,"c":81,"v":0},{"r":6,"c":82,"v":0},{"r":6,"c":83,"v":0},{"r":6,"c":84,"v":0},{"r":6,"c":85,"v":0},{"r":6,"c":86,"v":0},{"r":6,"c":87,"v":0},{"r":6,"c":88,"v":0},{"r":6,"c":89,"v":0},
    {"r":6,"c":90,"v":0},{"r":6,"c":91,"v":0},{"r":6,"c":92,"v":0},{"r":6,"c":93,"v":0},{"r":6,"c":94,"v":0},{"r":6,"c":95,"v":0},{"r":6,"c":96,"v":0},{"r":6,"c":97,"v":0},{"r":6,"c":98,"v":0},{"r":6,"c":99,"v":0},
    {"r":6,"c":100,"v":0},{"r":6,"c":101,"v":0},{"r":6,"c":102,"v":0},{"r":6,"c":103,"v":0},{"r":6,"c":104,"v":0},{"r":6,"c":105,"v":0},{"r":6,"c":106,"v":0},{"r":6,"c":107,"v":0},{"r":6,"c":108,"v":0},{"r":6,"c":109,"v":0},
    {"r":6,"c":110,"v":0},{"r":6,"c":111,"v":0},{"r":6,"c":112,"v":0},{"r":6,"c":113,"v":0},{"r":6,"c":114,"v":0},{"r":6,"c":115,"v":0},{"r":6,"c":116,"v":0},{"r":6,"c":117,"v":0},{"r":6,"c":118,"v":0},{"r":6,"c":119,"v":0},
    {"r":6,"c":120,"v":0},{"r":6,"c":121,"v":0},{"r":6,"c":122,"v":0},{"r":6,"c":123,"v":0},{"r":6,"c":124,"v":0},{"r":6,"c":125,"v":0},{"r":6,"c":126,"v":0},{"r":6,"c":127,"v":0},{"r":6,"c":128,"v":0},{"r":6,"c":129,"v":0},
    {"r":6,"c":130,"v":0},{"r":6,"c":131,"v":0},{"r":6,"c":132,"v":0},{"r":6,"c":133,"v":0},{"r":6,"c":134,"v":0},{"r":6,"c":135,"v":0},{"r":6,"c":136,"v":0},{"r":6,"c":137,"v":0},{"r":6,"c":138,"v":0},{"r":6,"c":139,"v":0},
    {"r":6,"c":140,"v":0},{"r":6,"c":141,"v":0},{"r":6,"c":142,"v":0},{"r":6,"c":143,"v":0},{"r":6,"c":144,"v":0},{"r":6,"c":145,"v":0},{"r":6,"c":146,"v":0},{"r":6,"c":147,"v":0},{"r":6,"c":148,"v":0},{"r":6,"c":149,"v":0},
    {"r":6,"c":150,"v":0},{"r":6,"c":151,"v":0},{"r":6,"c":152,"v":0},{"r":6,"c":153,"v":0},{"r":6,"c":154,"v":0},{"r":6,"c":155,"v":0},{"r":6,"c":156,"v":0},{"r":6,"c":157,"v":0},{"r":6,"c":158,"v":0},{"r":6,"c":159,"v":0},

    {"r":7,"c":0,"v":0},{"r":7,"c":1,"v":0},{"r":7,"c":2,"v":0},{"r":7,"c":3,"v":0},{"r":7,"c":4,"v":0},{"r":7,"c":5,"v":0},{"r":7,"c":6,"v":0},{"r":7,"c":7,"v":0},{"r":7,"c":8,"v":0},{"r":7,"c":9,"v":0},
    {"r":7,"c":10,"v":1},{"r":7,"c":11,"v":1},{"r":7,"c":12,"v":1},{"r":7,"c":13,"v":0},{"r":7,"c":14,"v":0},{"r":7,"c":15,"v":1},{"r":7,"c":16,"v":1},{"r":7,"c":17,"v":1},{"r":7,"c":18,"v":1},{"r":7,"c":19,"v":1},
    {"r":7,"c":20,"v":1},{"r":7,"c":21,"v":1},{"r":7,"c":22,"v":1},{"r":7,"c":23,"v":1},{"r":7,"c":24,"v":1},{"r":7,"c":25,"v":1},{"r":7,"c":26,"v":1},{"r":7,"c":27,"v":1},{"r":7,"c":28,"v":1},{"r":7,"c":29,"v":1},
    {"r":7,"c":30,"v":1},{"r":7,"c":31,"v":1},{"r":7,"c":32,"v":1},{"r":7,"c":33,"v":1},{"r":7,"c":34,"v":1},{"r":7,"c":35,"v":1},{"r":7,"c":36,"v":1},{"r":7,"c":37,"v":1},{"r":7,"c":38,"v":1},{"r":7,"c":39,"v":1},
    {"r":7,"c":40,"v":1},{"r":7,"c":41,"v":1},{"r":7,"c":42,"v":1},{"r":7,"c":43,"v":1},{"r":7,"c":44,"v":1},{"r":7,"c":45,"v":1},{"r":7,"c":46,"v":1},{"r":7,"c":47,"v":1},{"r":7,"c":48,"v":1},{"r":7,"c":49,"v":1},
    {"r":7,"c":50,"v":1},{"r":7,"c":51,"v":1},{"r":7,"c":52,"v":1},{"r":7,"c":53,"v":1},{"r":7,"c":54,"v":1},{"r":7,"c":55,"v":1},{"r":7,"c":56,"v":1},{"r":7,"c":57,"v":1},{"r":7,"c":58,"v":1},{"r":7,"c":59,"v":1},
    {"r":7,"c":60,"v":1},{"r":7,"c":61,"v":1},{"r":7,"c":62,"v":1},{"r":7,"c":63,"v":1},{"r":7,"c":64,"v":1},{"r":7,"c":65,"v":1},{"r":7,"c":66,"v":1},{"r":7,"c":67,"v":1},{"r":7,"c":68,"v":1},{"r":7,"c":69,"v":1},
    {"r":7,"c":70,"v":1},{"r":7,"c":71,"v":1},{"r":7,"c":72,"v":1},{"r":7,"c":73,"v":1},{"r":7,"c":74,"v":1},{"r":7,"c":75,"v":1},{"r":7,"c":76,"v":1},{"r":7,"c":77,"v":1},{"r":7,"c":78,"v":1},{"r":7,"c":79,"v":1},
    {"r":7,"c":80,"v":1},{"r":7,"c":81,"v":1},{"r":7,"c":82,"v":1},{"r":7,"c":83,"v":1},{"r":7,"c":84,"v":1},{"r":7,"c":85,"v":1},{"r":7,"c":86,"v":1},{"r":7,"c":87,"v":1},{"r":7,"c":88,"v":1},{"r":7,"c":89,"v":1},
    {"r":7,"c":90,"v":1},{"r":7,"c":91,"v":1},{"r":7,"c":92,"v":1},{"r":7,"c":93,"v":1},{"r":7,"c":94,"v":1},{"r":7,"c":95,"v":1},{"r":7,"c":96,"v":1},{"r":7,"c":97,"v":1},{"r":7,"c":98,"v":1},{"r":7,"c":99,"v":1},
    {"r":7,"c":100,"v":0.22},{"r":7,"c":101,"v":0.88},{"r":7,"c":102,"v":0.9},{"r":7,"c":103,"v":0.2},{"r":7,"c":104,"v":1},{"r":7,"c":105,"v":1},{"r":7,"c":106,"v":1},{"r":7,"c":107,"v":0.41},{"r":7,"c":108,"v":0},{"r":7,"c":109,"v":0.78},
    {"r":7,"c":110,"v":0.11},{"r":7,"c":111,"v":0.12},{"r":7,"c":112,"v":1},{"r":7,"c":113,"v":1},{"r":7,"c":114,"v":0.6},{"r":7,"c":115,"v":0},{"r":7,"c":116,"v":0},{"r":7,"c":117,"v":0},{"r":7,"c":118,"v":0.8},{"r":7,"c":119,"v":0.11},
    {"r":7,"c":120,"v":0},{"r":7,"c":121,"v":1},{"r":7,"c":122,"v":1},{"r":7,"c":123,"v":1},{"r":7,"c":124,"v":1},{"r":7,"c":125,"v":0},{"r":7,"c":126,"v":0},{"r":7,"c":127,"v":0},{"r":7,"c":128,"v":1},{"r":7,"c":129,"v":1},
    {"r":7,"c":130,"v":0},{"r":7,"c":131,"v":0},{"r":7,"c":132,"v":0},{"r":7,"c":133,"v":0},{"r":7,"c":134,"v":0},{"r":7,"c":135,"v":0},{"r":7,"c":136,"v":0},{"r":7,"c":137,"v":0},{"r":7,"c":138,"v":0},{"r":7,"c":139,"v":0},
    {"r":7,"c":140,"v":0},{"r":7,"c":141,"v":0},{"r":7,"c":142,"v":0},{"r":7,"c":143,"v":0},{"r":7,"c":144,"v":0},{"r":7,"c":145,"v":0},{"r":7,"c":146,"v":0},{"r":7,"c":147,"v":0},{"r":7,"c":148,"v":0},{"r":7,"c":149,"v":0},
    {"r":7,"c":150,"v":0},{"r":7,"c":151,"v":0},{"r":7,"c":152,"v":0},{"r":7,"c":153,"v":0},{"r":7,"c":154,"v":0},{"r":7,"c":155,"v":0},{"r":7,"c":156,"v":0},{"r":7,"c":157,"v":0},{"r":7,"c":158,"v":0},{"r":7,"c":159,"v":0}
  ]},
  "layer": [
    {
      "mark": {"type": "rect", "strokeWidth": 1},
      "encoding": {
        "x": {
          "field": "c", "type": "ordinal",
          "scale": {"paddingInner": 0, "paddingOuter": 0},
          "axis": {"orient": "bottom", "values": [0, 20, 40, 60, 80, 100, 120, 140], "title": null, "labelPadding": 35, "zindex": 2}
        },
        "y": {
          "field": "r", "type": "ordinal",
          "scale": {"paddingInner": 0, "paddingOuter": 0},
          "axis": {"orient": "left", "title": null, "labelPadding": 31, "zindex": 2}
        },
        "color": {
          "field": "v", "type": "quantitative",
          "scale": {"domain": [0, 1], "range": ["#ffff66", "#008066"], "interpolate": "rgb"},
          "legend": null
        },
        "stroke": {
          "field": "v", "type": "quantitative",
          "scale": {"domain": [0, 1], "range": ["#ffff66", "#008066"], "interpolate": "rgb"},
          "legend": null
        }
      }
    },
    {
      "transform": [{"filter": "datum.r == 0 && datum.c == 0"}],
      "mark": {"type": "rect", "opacity": 0},
      "encoding": {
        "x": {
          "field": "c", "type": "ordinal",
          "axis": {"orient": "top", "values": [0, 20, 40, 60, 80, 100, 120, 140], "labels": false, "title": null, "zindex": 2}
        },
        "y": {
          "field": "r", "type": "ordinal",
          "axis": {"orient": "right", "labels": false, "title": null, "zindex": 2}
        }
      }
    }
  ],
  "resolve": {"axis": {"x": "independent", "y": "independent"}}
}
